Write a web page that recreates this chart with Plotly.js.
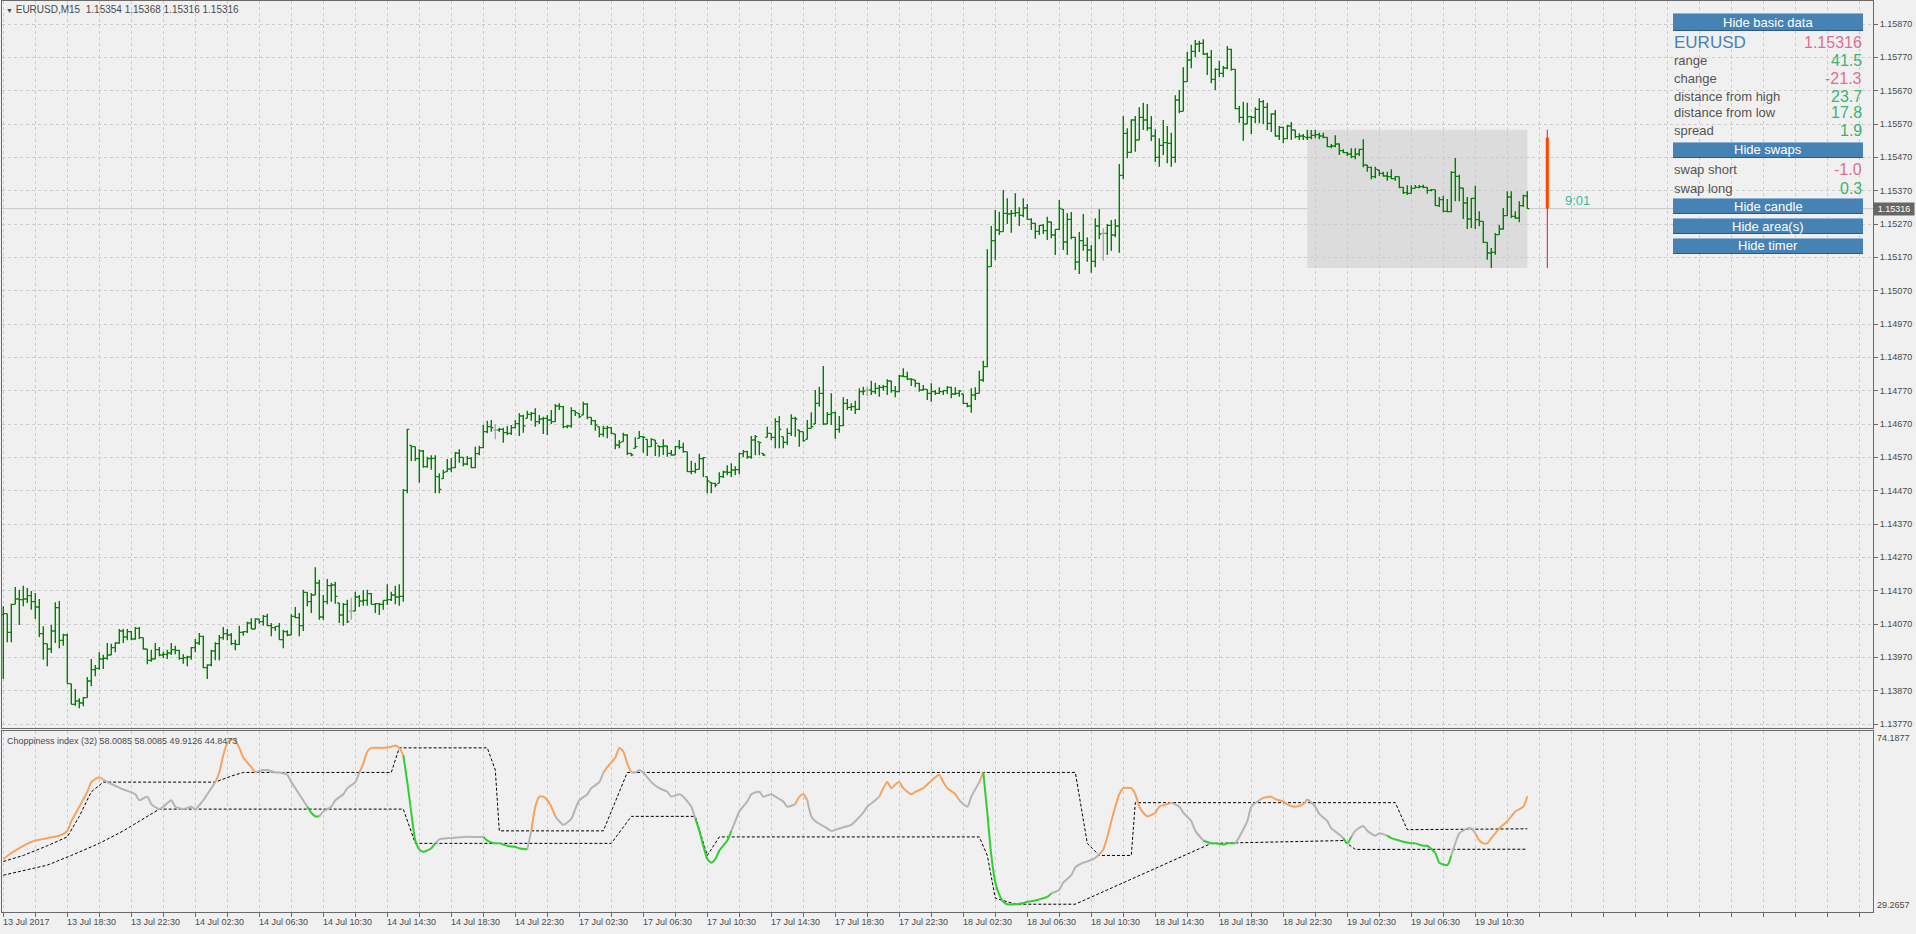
<!DOCTYPE html>
<html><head><meta charset="utf-8">
<script src="https://cdn.plot.ly/plotly-3.0.1.min.js"></script>
<style>html,body{margin:0;padding:0;background:#f0f0f0;overflow:hidden}#chart{width:1916px;height:934px}</style>
</head><body><div id="chart"></div><script>
// ---------- data (EURUSD M15, bar index 0 = 13 Jul 2017 14:30) ----------
const open=[1.14098,1.14101,1.14045,1.14129,1.14145,1.14143,1.14145,1.14155,1.14137,1.14121,
1.14041,1.14011,1.13995,1.14049,1.14119,1.14021,1.14037,1.13891,1.13829,1.13839,
1.13833,1.13849,1.13899,1.13933,1.13937,1.13965,1.13967,1.13977,1.13999,1.14013,
1.14049,1.14031,1.14047,1.14025,1.14057,1.14029,1.13995,1.13961,1.13965,1.13993,
1.13977,1.13979,1.13983,1.13993,1.13991,1.13967,1.13969,1.13971,1.13999,1.14013,
1.14033,1.13939,1.13947,1.13989,1.14011,1.14029,1.14041,1.14037,1.14011,1.14009,
1.14045,1.14047,1.14073,1.14055,1.14085,1.14077,1.14093,1.14065,1.14059,1.14063,
1.14023,1.14047,1.14037,1.14093,1.14089,1.14065,1.14165,1.14137,1.14157,1.14193,
1.14091,1.14137,1.14185,1.14187,1.14133,1.14097,1.14129,1.14109,1.14109,1.14151,
1.14139,1.14141,1.14161,1.14129,1.14131,1.14129,1.14141,1.14143,1.14157,1.14151,
1.14153,1.14471,1.14606,1.14602,1.14566,1.14589,1.14542,1.14566,1.14567,1.14512,
1.14506,1.14527,1.14535,1.14539,1.14583,1.14570,1.14550,1.14567,1.14539,1.14581,
1.14599,1.14647,1.14662,1.14652,1.14652,1.14654,1.14644,1.14642,1.14659,1.14671,
1.14694,1.14687,1.14699,1.14702,1.14677,1.14685,1.14687,1.14682,1.14677,1.14724,
1.14722,1.14662,1.14664,1.14710,1.14702,1.14697,1.14730,1.14690,1.14680,1.14662,
1.14639,1.14657,1.14659,1.14640,1.14607,1.14617,1.14637,1.14582,1.14597,1.14627,
1.14632,1.14624,1.14602,1.14622,1.14604,1.14602,1.14604,1.14582,1.14577,1.14602,
1.14600,1.14587,1.14527,1.14528,1.14534,1.14566,1.14512,1.14495,1.14492,1.14492,
1.14512,1.14526,1.14525,1.14532,1.14533,1.14581,1.14587,1.14571,1.14622,1.14617,
1.14582,1.14630,1.14642,1.14630,1.14677,1.14632,1.14615,1.14642,1.14687,1.14652,
1.14647,1.14624,1.14657,1.14670,1.14732,1.14762,1.14670,1.14699,1.14704,1.14654,
1.14665,1.14732,1.14720,1.14722,1.14714,1.14767,1.14772,1.14772,1.14767,1.14777,
1.14780,1.14782,1.14799,1.14770,1.14767,1.14814,1.14812,1.14805,1.14802,1.14792,
1.14772,1.14774,1.14762,1.14767,1.14762,1.14767,1.14770,1.14780,1.14760,1.14762,
1.14760,1.14732,1.14724,1.14757,1.14762,1.14802,1.14842,1.15142,1.15220,1.15252,
1.15247,1.15302,1.15300,1.15302,1.15304,1.15296,1.15318,1.15284,1.15272,1.15248,
1.15266,1.15250,1.15276,1.15237,1.15254,1.15314,1.15216,1.15284,1.15230,1.15156,
1.15220,1.15206,1.15192,1.15158,1.15264,1.15242,1.15242,1.15266,1.15237,1.15264,
1.15416,1.15542,1.15485,1.15582,1.15522,1.15590,1.15582,1.15558,1.15534,1.15470,
1.15506,1.15514,1.15512,1.15470,1.15642,1.15608,1.15697,1.15762,1.15788,1.15810,
1.15812,1.15780,1.15770,1.15704,1.15734,1.15722,1.15738,1.15794,1.15734,1.15616,
1.15590,1.15570,1.15592,1.15590,1.15614,1.15637,1.15620,1.15572,1.15600,1.15534,
1.15560,1.15526,1.15564,1.15552,1.15532,1.15534,1.15529,1.15530,1.15536,1.15538,
1.15534,1.15530,1.15502,1.15504,1.15510,1.15490,1.15484,1.15480,1.15472,1.15480,
1.15494,1.15447,1.15440,1.15412,1.15432,1.15422,1.15414,1.15412,1.15406,1.15412,
1.15380,1.15364,1.15362,1.15377,1.15380,1.15382,1.15380,1.15371,1.15373,1.15325,
1.15343,1.15308,1.15307,1.15425,1.15413,1.15378,1.15333,1.15285,1.15347,1.15283,
1.15278,1.15215,1.15183,1.15185,1.15238,1.15255,1.15295,1.15351,1.15293,1.15288,1.15325,1.15354];
const high=[1.14123,1.14101,1.14131,1.14181,1.14173,1.14185,1.14178,1.14169,1.14163,1.14145,
1.14063,1.14011,1.14067,1.14135,1.14139,1.14041,1.14041,1.13891,1.13875,1.13847,
1.13851,1.13911,1.13965,1.13947,1.13985,1.13978,1.14013,1.14011,1.14015,1.14055,
1.14055,1.14055,1.14049,1.14061,1.14061,1.14029,1.13995,1.13993,1.14013,1.14001,
1.13987,1.13993,1.14013,1.14005,1.13993,1.13979,1.13975,1.14001,1.14025,1.14043,
1.14035,1.13949,1.13993,1.14015,1.14037,1.14061,1.14055,1.14043,1.14023,1.14065,
1.14049,1.14077,1.14087,1.14087,1.14085,1.14097,1.14101,1.14073,1.14063,1.14073,
1.14053,1.14051,1.14099,1.14121,1.14103,1.14173,1.14165,1.14163,1.14240,1.14203,
1.14157,1.14205,1.14193,1.14197,1.14133,1.14133,1.14143,1.14149,1.14167,1.14157,
1.14171,1.14173,1.14163,1.14133,1.14133,1.14141,1.14189,1.14167,1.14185,1.14189,
1.14475,1.14656,1.14606,1.14602,1.14594,1.14592,1.14572,1.14576,1.14576,1.14522,
1.14533,1.14565,1.14568,1.14586,1.14594,1.14570,1.14574,1.14570,1.14602,1.14605,
1.14667,1.14680,1.14682,1.14670,1.14659,1.14659,1.14664,1.14667,1.14682,1.14702,
1.14698,1.14710,1.14706,1.14717,1.14697,1.14692,1.14697,1.14712,1.14730,1.14732,
1.14724,1.14667,1.14720,1.14710,1.14702,1.14737,1.14732,1.14690,1.14682,1.14662,
1.14664,1.14665,1.14660,1.14640,1.14622,1.14644,1.14639,1.14582,1.14630,1.14649,
1.14634,1.14624,1.14627,1.14622,1.14604,1.14624,1.14605,1.14592,1.14604,1.14622,
1.14614,1.14587,1.14560,1.14554,1.14581,1.14571,1.14512,1.14495,1.14494,1.14525,
1.14530,1.14546,1.14552,1.14543,1.14584,1.14592,1.14590,1.14634,1.14637,1.14617,
1.14582,1.14662,1.14642,1.14687,1.14694,1.14632,1.14657,1.14699,1.14692,1.14652,
1.14647,1.14682,1.14705,1.14772,1.14782,1.14844,1.14706,1.14762,1.14707,1.14694,
1.14750,1.14745,1.14732,1.14740,1.14777,1.14782,1.14782,1.14800,1.14794,1.14787,
1.14787,1.14804,1.14800,1.14784,1.14817,1.14837,1.14827,1.14807,1.14802,1.14794,
1.14787,1.14774,1.14792,1.14772,1.14780,1.14772,1.14784,1.14782,1.14780,1.14772,
1.14760,1.14734,1.14777,1.14780,1.14830,1.14860,1.15194,1.15264,1.15312,1.15307,
1.15372,1.15347,1.15312,1.15362,1.15320,1.15347,1.15330,1.15287,1.15274,1.15267,
1.15270,1.15292,1.15277,1.15254,1.15342,1.15314,1.15302,1.15306,1.15232,1.15246,
1.15300,1.15230,1.15207,1.15287,1.15314,1.15257,1.15270,1.15282,1.15284,1.15450,
1.15594,1.15557,1.15584,1.15594,1.15620,1.15634,1.15630,1.15594,1.15554,1.15527,
1.15582,1.15564,1.15544,1.15656,1.15672,1.15740,1.15786,1.15808,1.15822,1.15820,
1.15824,1.15784,1.15792,1.15737,1.15760,1.15744,1.15804,1.15796,1.15734,1.15624,
1.15637,1.15634,1.15594,1.15620,1.15647,1.15642,1.15634,1.15602,1.15612,1.15564,
1.15562,1.15567,1.15576,1.15552,1.15542,1.15540,1.15553,1.15552,1.15552,1.15544,
1.15544,1.15530,1.15510,1.15536,1.15512,1.15494,1.15486,1.15497,1.15497,1.15496,
1.15524,1.15447,1.15442,1.15442,1.15432,1.15427,1.15427,1.15434,1.15414,1.15412,
1.15380,1.15386,1.15386,1.15387,1.15387,1.15388,1.15380,1.15375,1.15373,1.15351,
1.15355,1.15345,1.15428,1.15468,1.15418,1.15378,1.15351,1.15348,1.15385,1.15308,
1.15278,1.15215,1.15198,1.15243,1.15268,1.15318,1.15368,1.15368,1.15308,1.15338,1.15358,1.15368];
const low=[1.13905,1.14015,1.14015,1.14129,1.14067,1.14123,1.14133,1.14113,1.14085,1.14031,
1.13963,1.13943,1.13983,1.14013,1.13997,1.14005,1.13891,1.13829,1.13825,1.13817,
1.13823,1.13849,1.13883,1.13913,1.13933,1.13935,1.13963,1.13977,1.13985,1.14011,
1.14013,1.14021,1.14021,1.14023,1.14025,1.13993,1.13949,1.13957,1.13965,1.13973,
1.13967,1.13965,1.13977,1.13979,1.13963,1.13951,1.13943,1.13963,1.13985,1.14007,
1.13937,1.13905,1.13943,1.13961,1.13961,1.14023,1.14021,1.14007,1.13991,1.14007,
1.14035,1.14043,1.14055,1.14055,1.14071,1.14065,1.14063,1.14033,1.14049,1.14023,
1.13997,1.14033,1.14037,1.14087,1.14033,1.14049,1.14123,1.14103,1.14157,1.14083,
1.14083,1.14129,1.14137,1.14131,1.14073,1.14065,1.14073,1.14083,1.14109,1.14121,
1.14125,1.14125,1.14129,1.14103,1.14097,1.14113,1.14127,1.14139,1.14129,1.14125,
1.14137,1.14462,1.14559,1.14559,1.14494,1.14539,1.14539,1.14533,1.14462,1.14462,
1.14506,1.14527,1.14525,1.14538,1.14554,1.14543,1.14546,1.14537,1.14538,1.14576,
1.14597,1.14642,1.14647,1.14624,1.14647,1.14614,1.14637,1.14637,1.14657,1.14634,
1.14644,1.14687,1.14680,1.14662,1.14670,1.14640,1.14637,1.14670,1.14677,1.14712,
1.14657,1.14657,1.14659,1.14694,1.14687,1.14697,1.14684,1.14667,1.14650,1.14630,
1.14632,1.14627,1.14640,1.14594,1.14597,1.14617,1.14577,1.14573,1.14597,1.14627,
1.14584,1.14574,1.14602,1.14574,1.14572,1.14577,1.14572,1.14575,1.14577,1.14594,
1.14584,1.14526,1.14519,1.14522,1.14534,1.14511,1.14462,1.14462,1.14480,1.14492,
1.14508,1.14516,1.14511,1.14517,1.14519,1.14570,1.14566,1.14566,1.14576,1.14576,
1.14574,1.14630,1.14622,1.14597,1.14597,1.14597,1.14607,1.14634,1.14632,1.14602,
1.14617,1.14624,1.14657,1.14670,1.14722,1.14667,1.14670,1.14667,1.14626,1.14644,
1.14664,1.14712,1.14710,1.14700,1.14712,1.14757,1.14754,1.14757,1.14760,1.14752,
1.14770,1.14757,1.14764,1.14750,1.14767,1.14810,1.14802,1.14784,1.14780,1.14767,
1.14770,1.14742,1.14737,1.14757,1.14760,1.14757,1.14760,1.14747,1.14757,1.14752,
1.14730,1.14720,1.14704,1.14742,1.14762,1.14797,1.14840,1.15142,1.15162,1.15237,
1.15247,1.15270,1.15244,1.15292,1.15264,1.15290,1.15282,1.15252,1.15226,1.15237,
1.15240,1.15222,1.15227,1.15177,1.15252,1.15192,1.15177,1.15224,1.15132,1.15120,
1.15190,1.15157,1.15124,1.15140,1.15224,1.15160,1.15177,1.15190,1.15230,1.15184,
1.15404,1.15467,1.15484,1.15487,1.15522,1.15552,1.15550,1.15519,1.15456,1.15442,
1.15477,1.15452,1.15442,1.15454,1.15602,1.15608,1.15697,1.15737,1.15770,1.15786,
1.15777,1.15717,1.15692,1.15672,1.15710,1.15710,1.15734,1.15730,1.15614,1.15574,
1.15520,1.15570,1.15540,1.15572,1.15572,1.15570,1.15552,1.15546,1.15532,1.15522,
1.15512,1.15524,1.15522,1.15527,1.15522,1.15522,1.15522,1.15524,1.15527,1.15524,
1.15527,1.15500,1.15497,1.15500,1.15477,1.15482,1.15474,1.15467,1.15464,1.15474,
1.15440,1.15427,1.15404,1.15407,1.15414,1.15412,1.15400,1.15404,1.15400,1.15377,
1.15360,1.15357,1.15362,1.15377,1.15377,1.15377,1.15361,1.15368,1.15325,1.15321,
1.15305,1.15305,1.15305,1.15338,1.15338,1.15285,1.15255,1.15258,1.15255,1.15263,
1.15213,1.15163,1.15138,1.15178,1.15238,1.15253,1.15295,1.15288,1.15285,1.15275,1.15321,1.15316];
const close=[1.14101,1.14045,1.14129,1.14145,1.14143,1.14145,1.14155,1.14137,1.14121,1.14041,
1.14011,1.13995,1.14049,1.14119,1.14021,1.14037,1.13891,1.13829,1.13839,1.13833,
1.13849,1.13899,1.13933,1.13937,1.13965,1.13967,1.13977,1.13999,1.14013,1.14049,
1.14031,1.14047,1.14025,1.14057,1.14029,1.13995,1.13961,1.13965,1.13993,1.13977,
1.13979,1.13983,1.13993,1.13991,1.13967,1.13969,1.13971,1.13999,1.14013,1.14033,
1.13939,1.13947,1.13989,1.14011,1.14029,1.14041,1.14037,1.14011,1.14009,1.14045,
1.14047,1.14073,1.14055,1.14085,1.14077,1.14093,1.14065,1.14059,1.14063,1.14023,
1.14047,1.14037,1.14093,1.14089,1.14065,1.14165,1.14137,1.14157,1.14193,1.14091,
1.14137,1.14185,1.14187,1.14153,1.14097,1.14129,1.14077,1.14109,1.14151,1.14139,
1.14141,1.14161,1.14129,1.14131,1.14129,1.14141,1.14143,1.14157,1.14151,1.14153,
1.14471,1.14654,1.14602,1.14566,1.14589,1.14542,1.14566,1.14567,1.14512,1.14474,
1.14525,1.14535,1.14539,1.14583,1.14570,1.14550,1.14567,1.14539,1.14581,1.14599,
1.14647,1.14662,1.14659,1.14652,1.14654,1.14644,1.14642,1.14659,1.14671,1.14694,
1.14664,1.14699,1.14702,1.14677,1.14685,1.14687,1.14682,1.14677,1.14724,1.14722,
1.14662,1.14664,1.14710,1.14704,1.14692,1.14730,1.14690,1.14680,1.14667,1.14639,
1.14657,1.14659,1.14642,1.14607,1.14614,1.14637,1.14582,1.14577,1.14602,1.14632,
1.14630,1.14602,1.14624,1.14612,1.14602,1.14604,1.14582,1.14577,1.14602,1.14600,
1.14587,1.14527,1.14528,1.14533,1.14566,1.14569,1.14499,1.14492,1.14487,1.14512,
1.14526,1.14525,1.14532,1.14533,1.14581,1.14587,1.14571,1.14622,1.14632,1.14614,
1.14577,1.14642,1.14630,1.14677,1.14654,1.14615,1.14642,1.14687,1.14685,1.14647,
1.14620,1.14657,1.14662,1.14732,1.14762,1.14670,1.14699,1.14704,1.14654,1.14665,
1.14732,1.14720,1.14722,1.14714,1.14767,1.14769,1.14772,1.14767,1.14777,1.14780,
1.14782,1.14799,1.14770,1.14767,1.14814,1.14812,1.14805,1.14804,1.14792,1.14772,
1.14774,1.14762,1.14767,1.14762,1.14767,1.14770,1.14780,1.14760,1.14762,1.14769,
1.14732,1.14724,1.14757,1.14762,1.14802,1.14842,1.15142,1.15220,1.15252,1.15247,
1.15302,1.15300,1.15302,1.15304,1.15296,1.15318,1.15284,1.15272,1.15248,1.15266,
1.15250,1.15276,1.15237,1.15254,1.15317,1.15216,1.15284,1.15230,1.15156,1.15220,
1.15206,1.15192,1.15158,1.15264,1.15240,1.15242,1.15266,1.15237,1.15264,1.15416,
1.15542,1.15485,1.15582,1.15522,1.15590,1.15582,1.15558,1.15534,1.15470,1.15506,
1.15514,1.15512,1.15470,1.15642,1.15608,1.15697,1.15762,1.15788,1.15810,1.15812,
1.15780,1.15770,1.15704,1.15734,1.15722,1.15738,1.15794,1.15734,1.15616,1.15590,
1.15570,1.15592,1.15590,1.15614,1.15637,1.15620,1.15572,1.15600,1.15534,1.15560,
1.15526,1.15564,1.15552,1.15532,1.15534,1.15532,1.15530,1.15536,1.15538,1.15534,
1.15530,1.15502,1.15504,1.15510,1.15490,1.15484,1.15480,1.15472,1.15480,1.15494,
1.15447,1.15440,1.15412,1.15434,1.15422,1.15414,1.15412,1.15406,1.15412,1.15380,
1.15364,1.15362,1.15377,1.15380,1.15382,1.15380,1.15371,1.15373,1.15325,1.15343,
1.15308,1.15307,1.15425,1.15413,1.15378,1.15333,1.15285,1.15347,1.15283,1.15278,
1.15215,1.15183,1.15185,1.15238,1.15255,1.15295,1.15351,1.15293,1.15288,1.15325,1.15355,1.15316];

// time-axis labels (every 16 bars)
const timeLabelBars=[0,16,32,48,64,80,96,112,128,144,160,176,192,208,224,240,256,272,288,304,320,336,352,368];
const timeLabels=['13 Jul 2017','13 Jul 18:30','13 Jul 22:30','14 Jul 02:30','14 Jul 06:30','14 Jul 10:30','14 Jul 14:30','14 Jul 18:30','14 Jul 22:30','17 Jul 02:30','17 Jul 06:30','17 Jul 10:30','17 Jul 14:30','17 Jul 18:30','17 Jul 22:30','18 Jul 02:30','18 Jul 06:30','18 Jul 10:30','18 Jul 14:30','18 Jul 18:30','18 Jul 22:30','19 Jul 02:30','19 Jul 06:30','19 Jul 10:30'];
const priceTicks=[1.13770,1.13870,1.13970,1.14070,1.14170,1.14270,1.14370,1.14470,1.14570,1.14670,1.14770,1.14870,1.14970,1.15070,1.15170,1.15270,1.15370,1.15470,1.15570,1.15670,1.15770,1.15870];

// Choppiness index (32): readings at bars
const ciBar=[0,2,5,8,11,14,16,17,19,21,22,24,25,26,28,30,33,34,36,37,39,40,42,43,45,47,48,50,51,53,54,55,56,57,58,59,60,62,63,65,66,68,69,71,72,74,76,77,78,79,80,82,83,85,86,88,89,90,91,92,94,95,97,98,99,100,101,102,103,104,105,107,108,109,111,112,115,118,120,121,123,124,126,128,129,131,132,133,134,135,136,137,138,139,140,142,143,144,146,147,149,150,151,153,154,155,156,157,158,159,160,162,164,166,167,169,170,172,173,174,175,176,177,178,179,181,182,183,184,186,187,189,190,192,193,195,196,198,199,200,201,202,203,205,206,207,209,210,212,213,215,216,218,219,220,221,222,223,224,225,227,228,230,231,233,234,235,236,238,239,241,242,244,245,246,247,248,249,250,251,253,255,256,258,259,261,262,264,265,267,268,270,271,273,274,275,276,277,278,279,280,282,283,284,285,286,288,289,291,292,294,295,297,298,300,302,303,305,306,308,309,311,312,314,315,317,318,320,321,323,325,326,328,329,331,332,334,335,336,337,338,340,341,343,344,346,347,349,350,352,353,355,356,358,359,361,362,363,364,366,367,368,369,370,371,372,373,374,376,377,378,380,381];
const ciVal=[42.4,43.9,45.7,47.0,47.6,48.2,49.4,51.8,55.4,59.1,61.5,62.7,62.1,61.5,60.6,59.7,58.5,57.0,57.9,56.0,54.8,55.4,57.0,55.4,54.8,55.4,54.8,57.0,58.5,61.5,63.9,68.2,71.2,72.1,71.8,70.0,67.6,65.2,63.9,64.5,64.5,63.9,63.9,63.3,61.5,58.5,55.4,53.9,53.0,53.0,54.2,55.4,57.0,58.5,60.0,61.5,63.9,66.1,69.1,70.0,70.0,70.0,70.3,70.6,70.0,68.2,61.5,53.9,47.0,44.8,44.2,45.1,46.3,47.3,47.6,47.6,47.9,47.9,47.9,47.0,46.3,46.3,45.7,45.4,45.1,44.8,49.4,55.4,57.9,57.9,57.0,55.4,53.0,51.8,50.9,52.4,54.8,57.0,58.5,60.0,61.5,63.9,65.2,67.6,70.0,69.1,66.1,63.9,63.9,64.5,63.9,61.5,60.0,59.1,57.9,58.5,57.9,55.4,52.4,49.4,45.7,42.4,41.5,42.4,44.5,47.0,49.4,51.8,54.2,56.7,58.5,59.1,57.9,58.5,57.9,56.7,55.4,56.0,57.9,58.5,57.0,53.0,51.8,50.6,50.0,49.4,50.0,50.3,50.9,51.8,53.9,55.4,57.0,57.9,60.0,61.5,60.0,60.9,61.5,60.0,58.5,59.1,60.0,60.9,62.7,63.3,61.5,60.0,58.5,57.0,55.4,57.9,61.5,63.9,53.9,43.3,36.6,33.6,31.8,31.2,31.2,31.5,31.8,32.1,32.4,33.0,33.9,34.8,36.6,38.4,40.3,41.5,41.8,42.7,43.6,44.8,47.9,51.8,55.4,58.5,60.0,60.0,58.5,55.4,53.9,53.0,53.9,55.4,56.0,56.4,55.4,53.9,51.8,49.4,47.0,46.3,46.3,46.0,46.3,46.3,47.9,51.8,55.4,57.0,57.6,57.9,57.3,56.7,56.0,55.4,56.0,57.3,55.4,53.6,51.8,50.0,48.5,47.6,46.3,47.9,49.4,50.6,49.4,48.2,48.8,48.2,47.6,47.0,46.7,46.3,46.3,45.7,45.7,43.9,41.5,40.9,43.3,46.3,48.8,50.0,50.0,48.8,47.0,46.3,46.3,47.6,48.8,50.0,51.8,53.0,54.2,55.4,58.0085];
// colour state of the line, as runs over the readings above: o = orange, n = gray, g = green
const ciStateRuns=[['o',13],['n',17],['o',9],['n',8],['g',3],['n',7],['o',9],['g',7],['n',6],['g',7],['n',1],['o',6],['n',9],['o',6],['n',11],['g',8],['n',11],['o',3],['n',13],['o',16],['n',3],['o',1],['g',13],['n',8],['o',15],['n',5],['g',5],['n',4],['o',8],['n',6],['g',2],['n',6],['g',11],['n',5],['o',11]];
// dashed bands (readings at bars)
const upBar=[0,5,11,16,19,22,25,53,57,60,97,99,121,123,124,150,156,268,271,274,282,283,348,351,381];
const upVal=[41.8,43.3,45.7,47.9,53.0,59.1,61.5,61.5,63.0,63.9,63.9,70.0,70.0,64.5,49.4,49.4,63.9,63.9,46.3,43.3,43.3,56.4,56.4,49.7,49.9126];
const loBar=[0,11,17,24,30,36,39,100,103,152,157,173,176,179,244,246,248,253,268,302,335,338,381];
const loVal=[38.4,40.9,43.3,46.3,49.4,53.0,54.8,54.8,46.3,46.3,53.0,53.0,43.3,47.9,47.9,43.3,32.7,31.2,31.2,46.3,47.0,44.8,44.8473];
const ciMin=29.2657, ciMax=74.1877, ciPeriod=32;

// info panel
const symbol='EURUSD', timeframe='M15';
const infoLabels=['range','change','distance from high','distance from low','spread'];
const infoValues=['41.5','-21.3','23.7','17.8','1.9'];
const infoColors=['#3cb371','#db7093','#3cb371','#3cb371','#3cb371'];
const swapLabels=['swap short','swap long'];
const swapValues=['-1.0','0.3'];
const swapColors=['#db7093','#3cb371'];
const sessionStartBar=326;   // 19 Jul 00:00
const dayCandleBar=386;
const timerText='9:01';

// ---------- layout geometry ----------
const PW=1916,PH=934,ML=2,MR=43,MT=1,MB=22;
const plotW=PW-ML-MR, plotH=PH-MT-MB;
const px=x=>(x-ML)/plotW, py=y=>(PH-MB-y)/plotH;
const n=close.length, last=n-1;
const idx=[...Array(n).keys()];
const fmt5=v=>v.toFixed(5);

const norm=idx.filter(i=>open[i]!==close[i]);
const doji=idx.filter(i=>open[i]===close[i]);
const traces=[];
traces.push({type:'ohlc',x:norm,open:norm.map(i=>open[i]),high:norm.map(i=>high[i]),low:norm.map(i=>low[i]),close:norm.map(i=>close[i]),
  increasing:{line:{color:'#008000',width:1.4}},decreasing:{line:{color:'#008000',width:1.4}},tickwidth:0.5,hoverinfo:'skip',xaxis:'x',yaxis:'y'});
const dx=[],dy=[];
doji.forEach(i=>{dx.push(i,i,null,i-0.5,i+0.5,null);dy.push(low[i],high[i],null,open[i],close[i],null);});
traces.push({type:'scatter',mode:'lines',x:dx,y:dy,line:{color:'#a8a8a8',width:1.4},hoverinfo:'skip',xaxis:'x',yaxis:'y'});

// indicator bands
traces.push({type:'scatter',mode:'lines',x:upBar,y:upVal,line:{color:'#000000',width:1,dash:'3px,2px'},hoverinfo:'skip',xaxis:'x2',yaxis:'y2'});
traces.push({type:'scatter',mode:'lines',x:loBar,y:loVal,line:{color:'#000000',width:1,dash:'3px,2px'},hoverinfo:'skip',xaxis:'x2',yaxis:'y2'});
// choppiness line coloured by state (each run drawn from the reading before it)
const ciState=[];ciStateRuns.forEach(([s,c])=>{for(let k=0;k<c;k++)ciState.push(s);});
const stateColor={n:'#b4b4b4',o:'#f4a460',g:'#32cd32'};
const runs={n:{x:[],y:[]},o:{x:[],y:[]},g:{x:[],y:[]}};
let k0=1;
while(k0<ciBar.length){
  const s=ciState[k0];let k1=k0;
  while(k1+1<ciBar.length&&ciState[k1+1]===s)k1++;
  for(let k=k0-1;k<=k1;k++){runs[s].x.push(ciBar[k]);runs[s].y.push(ciVal[k]);}
  runs[s].x.push(null);runs[s].y.push(null);
  k0=k1+1;
}
['n','o','g'].forEach(s=>traces.push({type:'scatter',mode:'lines',x:runs[s].x,y:runs[s].y,line:{color:stateColor[s],width:2,shape:'spline',smoothing:0.6},hoverinfo:'skip',xaxis:'x2',yaxis:'y2'}));
const ciLast=ciVal[ciVal.length-1];
const ciTitle='Choppiness index ('+ciPeriod+') '+[ciLast,ciLast,upVal[upVal.length-1],loVal[loVal.length-1]].map(v=>v.toFixed(4)).join(' ');

// session stats
const sHigh=Math.max(...high.slice(sessionStartBar)), sLow=Math.min(...low.slice(sessionStartBar));
const sOpen=open[sessionStartBar], lastClose=close[last];

const shapes=[
  {type:'rect',xref:'x',yref:'y',x0:sessionStartBar,x1:last,y0:sLow,y1:sHigh,fillcolor:'#dcdcdc',line:{width:0},layer:'below'},
  {type:'line',xref:'paper',yref:'y',x0:0,x1:1,y0:lastClose,y1:lastClose,line:{color:'#c8c8c8',width:1},layer:'below'},
  {type:'line',xref:'x',yref:'y',x0:dayCandleBar,x1:dayCandleBar,y0:sLow,y1:sHigh,line:{color:'#dc143c',width:1}},
  {type:'rect',xref:'x',yref:'y',x0:dayCandleBar-0.38,x1:dayCandleBar+0.38,y0:lastClose,y1:sOpen,fillcolor:'#ff4500',line:{width:0}}
];
const annotations=[];
const gray='#4a4a4a';
const sans='Liberation Sans, Arial, sans-serif';
annotations.push({xref:'paper',yref:'paper',x:px(4),y:py(10),xanchor:'left',yanchor:'middle',showarrow:false,
  text:'<span style="font-size:7px">▼</span> '+symbol+','+timeframe+'  '+[open[last],high[last],low[last],close[last]].map(fmt5).join(' '),
  font:{family:sans,size:10,color:gray}});
annotations.push({xref:'paper',yref:'paper',x:px(5),y:py(741),xanchor:'left',yanchor:'middle',showarrow:false,text:ciTitle,font:{family:sans,size:9,color:gray}});
timeLabelBars.forEach((b,k)=>annotations.push({xref:'x2',yref:'paper',x:b,y:py(922),xanchor:'left',yanchor:'middle',xshift:-2,showarrow:false,text:timeLabels[k],font:{family:sans,size:9,color:gray}}));
annotations.push({xref:'paper',yref:'y',x:1,y:lastClose,xanchor:'left',yanchor:'middle',showarrow:false,text:fmt5(lastClose),bgcolor:'#666666',font:{family:sans,size:9,color:'#ffffff'},width:38,borderpad:1});
annotations.push({xref:'paper',yref:'y2',x:1,y:ciMax,xanchor:'left',yanchor:'top',xshift:2,showarrow:false,text:ciMax.toFixed(4),font:{family:sans,size:9,color:gray}});
annotations.push({xref:'paper',yref:'y2',x:1,y:ciMin,xanchor:'left',yanchor:'bottom',xshift:2,showarrow:false,text:ciMin.toFixed(4),font:{family:sans,size:9,color:gray}});
annotations.push({xref:'x',yref:'y',x:dayCandleBar+4,y:lastClose,xanchor:'left',yanchor:'middle',yshift:8,showarrow:false,text:timerText,font:{family:sans,size:13,color:'#3cb8a0'}});

// panel buttons
const bx0=1673,bx1=1863;
function button(label,y0,y1){
  shapes.push({type:'rect',xref:'paper',yref:'paper',x0:px(bx0),x1:px(bx1),y0:py(y1),y1:py(y0),fillcolor:'#4682b4',line:{width:0}});
  shapes.push({type:'line',xref:'paper',yref:'paper',x0:px(bx0),x1:px(bx1),y0:py(y0+0.5),y1:py(y0+0.5),line:{color:'#8fb4d8',width:1}});
  shapes.push({type:'line',xref:'paper',yref:'paper',x0:px(bx0),x1:px(bx1),y0:py(y1-0.5),y1:py(y1-0.5),line:{color:'#2c5a82',width:1}});
  annotations.push({xref:'paper',yref:'paper',x:px((bx0+bx1)/2),y:py((y0+y1)/2),xanchor:'center',yanchor:'middle',showarrow:false,text:label,font:{family:sans,size:13,color:'#ffffff'}});
}
button('Hide basic data',13,31);
button('Hide swaps',142,158);
button('Hide candle',198,214);
button('Hide area(s)',218,234);
button('Hide timer',238,254);
function row(label,val,col,y,lsize,vsize,lcol){
  annotations.push({xref:'paper',yref:'paper',x:px(bx0-1),y:py(y),xanchor:'left',yanchor:'middle',showarrow:false,text:label,font:{family:sans,size:lsize,color:lcol}});
  annotations.push({xref:'paper',yref:'paper',x:px(bx1+1),y:py(y),xanchor:'right',yanchor:'middle',showarrow:false,text:val,font:{family:sans,size:vsize,color:col}});
}
row(symbol,fmt5(lastClose),'#db7093',43,17,16,'#4682b4');
const infoY=[60,78,96,113,131];
infoLabels.forEach((l,k)=>row(l,infoValues[k],infoColors[k],infoY[k],13,16,'#555555'));
const swapY=[169,188];
swapLabels.forEach((l,k)=>row(l,swapValues[k],swapColors[k],swapY[k],13,16,'#555555'));

const gridCol='#cccccc';
const vgrid=[];for(let b=0;b<=464;b+=8)vgrid.push(b);
const axisLine={showline:true,mirror:true,linecolor:'#6a6a6a',linewidth:1,zeroline:false,fixedrange:true};
const layout={
  width:PW,height:PH,margin:{l:ML,r:MR,t:MT,b:MB},paper_bgcolor:'#f0f0f0',plot_bgcolor:'#f0f0f0',showlegend:false,hovermode:false,
  xaxis:Object.assign({domain:[0,1],anchor:'y',range:[-0.325,467.425],tickmode:'array',tickvals:vgrid,showticklabels:false,ticks:'',showgrid:true,gridcolor:gridCol,griddash:'3px,3px',gridwidth:1,rangeslider:{visible:false}},axisLine),
  yaxis:Object.assign({domain:[(PH-MB-728)/plotH,1],anchor:'x',side:'right',range:[1.13758,1.15939],tickmode:'array',tickvals:priceTicks,ticktext:priceTicks.map(fmt5),
    ticks:'outside',ticklen:4,tickcolor:'#6a6a6a',tickfont:{family:sans,size:9,color:gray},showgrid:true,gridcolor:gridCol,griddash:'3px,3px',gridwidth:1},axisLine),
  xaxis2:Object.assign({domain:[0,1],anchor:'y2',matches:'x',range:[-0.325,467.425],tickmode:'array',tickvals:vgrid,showticklabels:false,ticks:'outside',ticklen:4,tickcolor:'#6a6a6a',
    showgrid:true,gridcolor:gridCol,griddash:'3px,3px',gridwidth:1},axisLine),
  yaxis2:Object.assign({domain:[0,(PH-MB-731)/plotH],anchor:'x2',side:'right',range:[ciMin,ciMax],showticklabels:false,ticks:'',showgrid:false},axisLine),
  shapes:shapes,annotations:annotations
};
Plotly.newPlot('chart',traces,layout,{staticPlot:true,displayModeBar:false});
</script></body></html>
